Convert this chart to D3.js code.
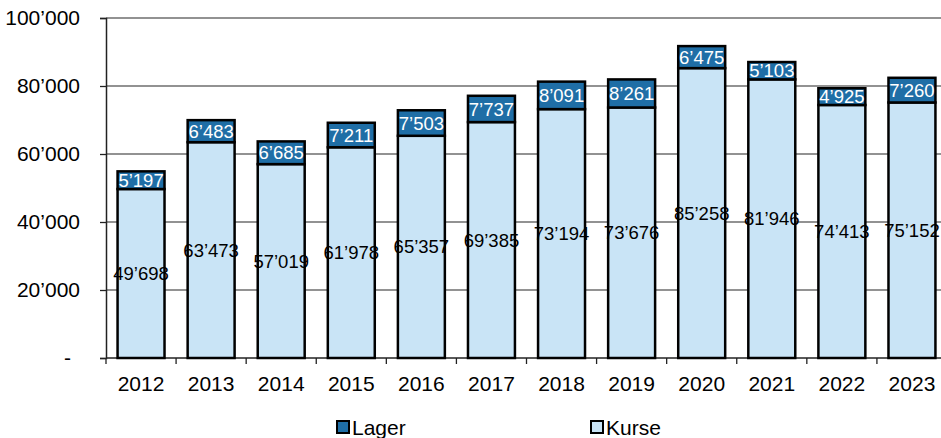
<!DOCTYPE html>
<html>
<head>
<meta charset="utf-8">
<script src="https://cdn.jsdelivr.net/npm/d3@7"></script>
<style>
  body { margin: 0; background: #fff; }
  text { font-family: "Liberation Sans", Arial, sans-serif; }
</style>
</head>
<body>
<svg id="chart" width="941" height="438"></svg>
<script>
const years = ["2012", "2013", "2014", "2015", "2016", "2017", "2018", "2019", "2020", "2021", "2022", "2023"];
const kurse = [49698, 63473, 57019, 61978, 65357, 69385, 73194, 73676, 85258, 81946, 74413, 75152];
const lager = [5197, 6483, 6685, 7211, 7503, 7737, 8091, 8261, 6475, 5103, 4925, 7260];
const yTicks = [0, 20000, 40000, 60000, 80000, 100000];
const seriesNames = ["Lager", "Kurse"];

const colLager = "#1f6ea6";
const colKurse = "#c9e4f6";

function fmt(v) {
    if (v === 0) return "-";
    return d3.format(",")(v).replace(/,/g, "\u2019");
}

let svg = d3.select("#chart");
const plotLeft = 106, plotRight = 947, plotTop = 18, plotBottom = 358;

let x = d3.scaleBand()
    .domain(years)
    .range([plotLeft, plotRight])
    .paddingInner(0.33)
    .paddingOuter(0.165);

let y = d3.scaleLinear()
    .domain([0, 100000])
    .range([plotBottom, plotTop]);

// gridlines
svg.append("g")
    .selectAll("line")
    .data(yTicks.filter(d => d > 0))
    .enter()
    .append("line")
    .attr("x1", plotLeft)
    .attr("x2", 941)
    .attr("y1", d => y(d))
    .attr("y2", d => y(d))
    .attr("stroke", "#6e6e6e")
    .attr("stroke-width", 1.3);

// y axis
let yAxis = svg.append("g")
    .attr("transform", `translate(${plotLeft},0)`)
    .call(d3.axisLeft(y).tickValues(yTicks).tickSize(6).tickPadding(20).tickFormat(fmt));
yAxis.select(".domain").attr("stroke", "#222").attr("stroke-width", 1.5);
yAxis.selectAll(".tick line").attr("stroke", "#222").attr("stroke-width", 1.3);
yAxis.selectAll("text")
    .attr("font-size", 21)
    .attr("fill", "#000")
    .attr("font-family", "Liberation Sans, Arial, sans-serif")
    .attr("dx", d => d === 0 ? -9 : 0);

// x axis with ticks at band edges
let xAxisG = svg.append("g").attr("transform", `translate(0,${plotBottom})`);
xAxisG.append("line")
    .attr("x1", plotLeft).attr("x2", 941)
    .attr("stroke", "#222").attr("stroke-width", 1.5);
let step = x.step();
let edges = d3.range(years.length + 1).map(i => plotLeft + i * step);
xAxisG.selectAll("line.tk")
    .data(edges)
    .enter()
    .append("line")
    .attr("class", "tk")
    .attr("x1", d => d).attr("x2", d => d)
    .attr("y1", 0).attr("y2", 6)
    .attr("stroke", "#222").attr("stroke-width", 1.3);
xAxisG.selectAll("text")
    .data(years)
    .enter()
    .append("text")
    .attr("x", d => x(d) + x.bandwidth() / 2)
    .attr("y", 33)
    .attr("text-anchor", "middle")
    .attr("font-size", 21)
    .text(d => d);

// bars
let data = years.map((yr, i) => ({ year: yr, kurse: kurse[i], lager: lager[i] }));
let bars = svg.append("g").selectAll("g").data(data).enter().append("g");

bars.append("rect")
    .attr("x", d => x(d.year))
    .attr("y", d => y(d.kurse))
    .attr("width", x.bandwidth())
    .attr("height", d => y(0) - y(d.kurse))
    .attr("fill", colKurse)
    .attr("stroke", "#000")
    .attr("stroke-width", 2.5);

bars.append("rect")
    .attr("x", d => x(d.year))
    .attr("y", d => y(d.kurse + d.lager))
    .attr("width", x.bandwidth())
    .attr("height", d => y(d.kurse) - y(d.kurse + d.lager))
    .attr("fill", colLager)
    .attr("stroke", "#000")
    .attr("stroke-width", 2.5);

bars.append("text")
    .attr("x", d => x(d.year) + x.bandwidth() / 2)
    .attr("y", d => (y(0) + y(d.kurse)) / 2)
    .attr("dy", "0.35em")
    .attr("text-anchor", "middle")
    .attr("font-size", 18.5)
    .attr("fill", "#000")
    .text(d => fmt(d.kurse));

bars.append("text")
    .attr("x", d => x(d.year) + x.bandwidth() / 2)
    .attr("y", d => (y(d.kurse) + y(d.kurse + d.lager)) / 2)
    .attr("dy", "0.36em")
    .attr("text-anchor", "middle")
    .attr("font-size", 18.5)
    .attr("fill", "#fff")
    .text(d => fmt(d.lager));

// legend
let legendX = [337, 591];
let legendCols = [colLager, colKurse];
let leg = svg.append("g").selectAll("g").data(seriesNames).enter().append("g")
    .attr("transform", (d, i) => `translate(${legendX[i]},427)`);
leg.append("rect")
    .attr("x", 0).attr("y", -6)
    .attr("width", 12).attr("height", 12)
    .attr("fill", (d, i) => legendCols[i])
    .attr("stroke", "#000")
    .attr("stroke-width", 2);
leg.append("text")
    .attr("x", 15)
    .attr("dy", "0.36em")
    .attr("font-size", 21)
    .text(d => d);
</script>
</body>
</html>
